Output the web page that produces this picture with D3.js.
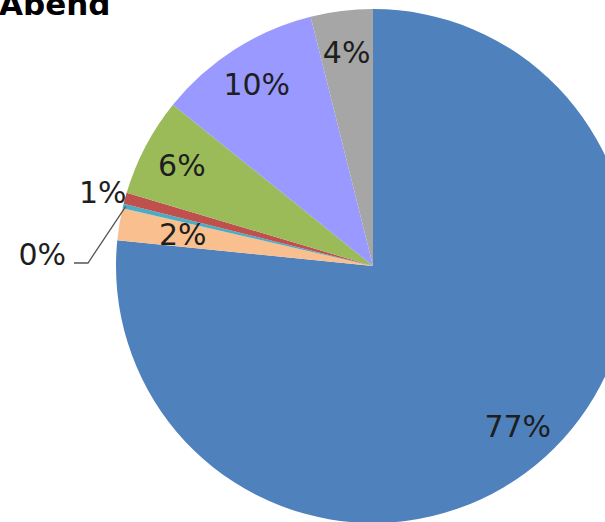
<!DOCTYPE html>
<meta charset="utf-8">
<style>
  body { margin: 0; background: #fff; }
  text { font-family: "DejaVu Sans", Verdana, sans-serif; }
</style>
<svg width="605" height="522"></svg>
<script src="https://cdn.jsdelivr.net/npm/d3@7"></script>
<script>

// slices clockwise from 12 o'clock
var categories = ['a', 'b', 'c', 'd', 'e', 'f', 'g']
var values = [76.6, 2.0, 0.3, 0.7, 6.2, 10.3, 3.9]
var labels = ['77%', '2%', '0%', '1%', '6%', '10%', '4%']
var colors = ['#4f81bd', '#f9bf8f', '#4bacc6', '#c0504d', '#9bbb59', '#9999ff', '#a6a6a6']

var width = 605
var height = 522
var cx = 373, cy = 266, radius = 257

var svg = d3.select('svg')

var pie = d3.pie().sort(null).value(function (d) { return d.value })
var data = categories.map(function (c, i) {
  return { key: c, value: values[i], label: labels[i], color: colors[i] }
})
var arcs = pie(data)

var arc = d3.arc().innerRadius(0).outerRadius(radius)

var g = svg.append('g').attr('transform', 'translate(' + cx + ',' + cy + ')')

g.selectAll('path')
  .data(arcs)
  .enter().append('path')
    .attr('d', arc)
    .attr('fill', function (d) { return d.data.color })

// inside labels sit along the mid angle, a bit closer in for thin slices
function labelPos(d, k) {
  var a = (d.startAngle + d.endAngle) / 2
  return [Math.sin(a) * radius * k, -Math.cos(a) * radius * k]
}
function labelFactor(d) {
  if (d.data.value < 0.5) return null
  if (d.data.value < 1.5) return 1.09
  if (d.data.value < 3) return 0.75
  return 0.84
}

g.selectAll('text.lbl')
  .data(arcs.filter(function (d) { return labelFactor(d) !== null }))
  .enter().append('text')
    .attr('class', 'lbl')
    .attr('x', function (d) { return labelPos(d, labelFactor(d))[0] })
    .attr('y', function (d) { return labelPos(d, labelFactor(d))[1] })
    .attr('dy', '0.36em')
    .attr('text-anchor', 'middle')
    .attr('font-size', 30)
    .attr('fill', '#1e1e1e')
    .text(function (d) { return d.data.label })

// the 0% slice gets a leader line out to the left
arcs.filter(function (d) { return labelFactor(d) === null }).forEach(function (d) {
  var edge = labelPos(d, 0.99)
  var elbow = [88 - cx, 263 - cy]
  var end = [74 - cx, 263 - cy]
  g.append('path')
    .attr('d', d3.line()([edge, elbow, end]))
    .attr('fill', 'none')
    .attr('stroke', '#555')
    .attr('stroke-width', 1.3)
  g.append('text')
    .attr('x', end[0] - 8)
    .attr('y', end[1] + 2)
    .attr('text-anchor', 'end')
    .attr('font-size', 30)
    .attr('fill', '#1e1e1e')
    .text(d.data.label)
})

svg.append('text')
  .attr('x', -1)
  .attr('y', 15)
  .attr('font-size', 31)
  .attr('font-weight', 'bold')
  .attr('fill', '#000')
  .text('Abend')
</script>
